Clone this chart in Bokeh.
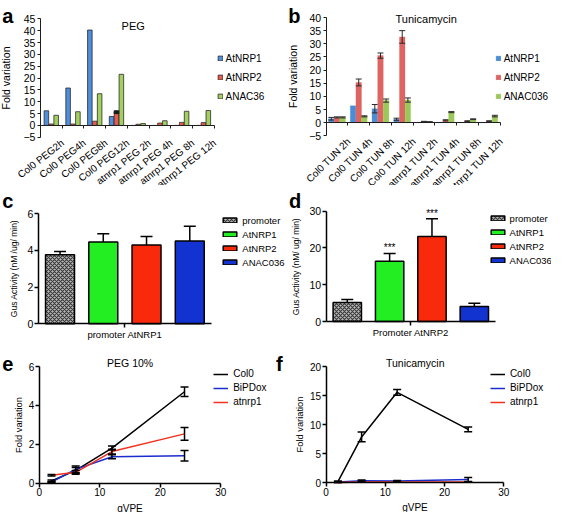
import math
from bokeh.plotting import figure
from bokeh.layouts import column, row
from bokeh.models import (ColumnDataSource, Legend, LegendItem, Label, LabelSet,
                          FixedTicker, Range1d)
from bokeh.transform import dodge
from bokeh.core.properties import value
from bokeh.embed import file_html
from bokeh.resources import INLINE

FONT = "Liberation Sans"

# ---------------- data ----------------
peg_cats = ["Col0 PEG2h", "Col0 PEG4h", "Col0 PEG8h", "Col0 PEG12h",
            "atnrp1 PEG 2h", "atnrp1 PEG 4h", "atnrp1 PEG 8h", "atnrp1 PEG 12h"]
peg_series = ["AtNRP1", "AtNRP2", "ANAC36"]
peg_atnrp1 = [6.2, 15.8, 40.3, 3.8, 0.0, 0.0, 0.0, 0.0]
peg_atnrp2 = [0.6, 0.6, 1.8, 5.6, 0.5, 1.0, 1.3, 1.2]
peg_anac36 = [4.3, 5.8, 13.4, 21.6, 0.8, 2.0, 6.0, 6.3]
peg_atnrp2_err = [0, 0, 0, 0.6, 0, 0, 0, 0]
peg_yticks = [-5, 0, 5, 10, 15, 20, 25, 30, 35, 40, 45]

tun_cats = ["Col0 TUN 2h", "Col0 TUN 4h", "Col0 TUN 8h", "Col0 TUN 12h",
            "atnrp1 TUN 2h", "atnrp1 TUN 4h", "atnrp1 TUN 8h", "atnrp1 TUN 12h"]
tun_series = ["AtNRP1", "AtNRP2", "ANAC036"]
tun_atnrp1 = [1.5, 6.4, 5.3, 1.3, 0.1, 0.0, 0.0, 0.0]
tun_atnrp1_err = [0.5, 0.0, 1.6, 0.4, 0.0, 0.0, 0.0, 0.0]
tun_atnrp2 = [2.0, 15.3, 25.5, 32.6, 0.4, 0.9, 0.6, 0.6]
tun_atnrp2_err = [0.2, 1.3, 1.0, 2.4, 0.1, 0.2, 0.1, 0.1]
tun_anac036 = [2.0, 2.4, 8.4, 8.6, 0.3, 4.0, 1.3, 2.5]
tun_anac036_err = [0.2, 0.2, 0.6, 0.8, 0.05, 0.2, 0.15, 0.3]
tun_yticks = [-5, 0, 5, 10, 15, 20, 25, 30, 35, 40]

gus_series = ["promoter", "AtNRP1", "AtNRP2", "ANAC036"]
gus1_group = "promoter AtNRP1"
gus1_vals = [3.75, 4.45, 4.28, 4.5]
gus1_err = [0.18, 0.45, 0.47, 0.8]
gus1_yticks = [0, 2, 4, 6]
gus2_group = "Promoter AtNRP2"
gus2_vals = [5.2, 16.4, 23.1, 4.1]
gus2_err = [0.8, 2.1, 4.8, 0.85]
gus2_marks = ["", "***", "***", ""]
gus2_yticks = [0, 10, 20, 30]

gvpe = [2, 6, 12, 24]
line_series = ["Col0", "BiPDox", "atnrp1"]
peg10_col0 = [0.1, 0.65, 1.8, 4.7]
peg10_col0_err = [0.05, 0.15, 0.1, 0.25]
peg10_bipdox = [0.05, 0.7, 1.35, 1.4]
peg10_bipdox_err = [0.03, 0.17, 0.1, 0.27]
peg10_atnrp1 = [0.4, 0.55, 1.62, 2.53]
peg10_atnrp1_err = [0.04, 0.1, 0.12, 0.33]
tunl_col0 = [0.2, 7.9, 15.6, 9.2]
tunl_col0_err = [0.1, 0.85, 0.5, 0.4]
tunl_bipdox = [0.1, 0.35, 0.3, 0.55]
tunl_bipdox_err = [0.05, 0.1, 0.1, 0.35]
tunl_atnrp1 = [0.05, 0.1, 0.1, 0.1]
tunl_atnrp1_err = [0.02, 0.03, 0.03, 0.03]
gvpe_xticks = [0, 10, 20, 30]
peg10_yticks = [0, 2, 4, 6]
tunl_yticks = [0, 5, 10, 15, 20]


# ---------------- helpers ----------------
def ext_range(d0, d1, p0, p1, size):
    # map data d0..d1 onto pixels p0..p1 of a frame that is `size` pixels long
    k = (d1 - d0) / (p1 - p0)
    return Range1d(start=d0 - p0 * k, end=d1 + (size - p1) * k)


def base(g, x0, x1, y0, y1):
    """g: (W, H, L, R, T, B) in pixels from the figure's top-left; the frame fills the figure."""
    W, H, L, R, T, B = g
    p = figure(width=W, height=H, output_backend="svg", toolbar_location=None,
               x_range=ext_range(x0, x1, L, R, W),
               y_range=ext_range(y0, y1, H - B, H - T, H),
               min_border=0, min_border_left=0, min_border_right=0,
               min_border_top=0, min_border_bottom=0)
    p.title.visible = False
    p.grid.visible = False
    p.outline_line_color = None
    p.border_fill_color = "white"
    p.background_fill_color = "white"
    return p


def style_axis(ax, fs, lw, tick_out, standoff, color="black"):
    ax.axis_line_color = color
    ax.axis_line_width = lw
    ax.major_tick_line_color = color
    ax.major_tick_line_width = lw
    ax.major_tick_out = tick_out
    ax.major_tick_in = 0
    ax.minor_tick_line_color = None
    ax.major_label_text_font = FONT
    ax.major_label_text_font_size = fs
    ax.major_label_text_color = "black"
    ax.major_label_standoff = standoff
    ax.axis_label_text_font = FONT
    ax.axis_label_text_font_style = "normal"
    ax.axis_label_text_color = "black"


def add_legend(p, H, items, gw, gh, lh, sp, so, fs, x, first_center):
    n = len(items)
    item_h = max(gh, lh)
    bottom = first_center - item_h / 2 + n * item_h + (n - 1) * sp
    p.add_layout(Legend(items=items, location=(x, H - bottom), orientation="vertical",
                        glyph_width=gw, glyph_height=gh, label_height=lh, spacing=sp,
                        label_standoff=so, padding=0, margin=0,
                        border_line_color=None, background_fill_alpha=0,
                        label_text_font=FONT, label_text_font_size=fs,
                        label_text_color="black"))


def top_text(p, H, text, x, y_top, size, bold=False, align="left"):
    # x from the left, y_top (text baseline) from the top of the figure, in pixels
    p.add_layout(Label(x=x, y=H - y_top, x_units="screen", y_units="screen", text=text,
                       text_font=FONT, text_font_size=size,
                       text_font_style="bold" if bold else "normal",
                       text_align=align, text_baseline="alphabetic",
                       text_color="black"))


def add_err(p, xs, vals, errs, color, lw, cap, offset=0.0, upper_only=False):
    keep = [i for i, e in enumerate(errs) if e > 0]
    s = ColumnDataSource(dict(
        x=[xs[i] for i in keep],
        lo=[vals[i] if upper_only else vals[i] - errs[i] for i in keep],
        up=[vals[i] + errs[i] for i in keep]))
    xx = dodge("x", offset)
    p.segment(x0=xx, y0="lo", x1=xx, y1="up", source=s, line_color=color, line_width=lw)
    p.scatter(x=xx, y="up", marker="dash", size=cap, source=s, line_color=color, line_width=lw)
    if not upper_only:
        p.scatter(x=xx, y="lo", marker="dash", size=cap, source=s, line_color=color, line_width=lw)


def excel_panel(g, cats, series, vals, errs, colors, outline, yticks, bar_w, step,
                ylab_standoff, label_angle, title, title_xy, letter, letter_xy, leg_xy):
    H = g[1]
    n = len(cats)
    p = base(g, 0, n, yticks[0], yticks[-1])
    centers = [i + 0.5 for i in range(n)]
    src = ColumnDataSource(dict(xc=centers, cat=cats,
                                **{f"s{i}": v for i, v in enumerate(vals)}))
    rends = []
    for i in range(len(series)):
        off = (i - (len(series) - 1) / 2) * step
        r = p.vbar(x=dodge("xc", off), top=f"s{i}", bottom=0, width=bar_w,
                   source=src, fill_color=colors[i],
                   line_color=outline if outline else colors[i],
                   line_width=0.8 if outline else 0.3)
        rends.append(r)
        if errs[i] is not None:
            add_err(p, centers, vals[i], errs[i], "#2a2a2a", 1, 6, offset=off)
    # value axis at the left of the categories
    p.yaxis.fixed_location = 0
    p.yaxis.bounds = (yticks[0], yticks[-1])
    p.yaxis.ticker = FixedTicker(ticks=yticks)
    style_axis(p.yaxis[0], "10.5px", 1, 3, 2, color="#1e1e1e")
    p.yaxis.axis_label = "Fold variation"
    p.yaxis.axis_label_text_font_size = "10.5px"
    p.yaxis.axis_label_standoff = ylab_standoff
    # category axis line at value 0, ticks between categories
    p.xaxis.fixed_location = 0
    p.xaxis.bounds = (0, n)
    p.xaxis.ticker = FixedTicker(ticks=list(range(n + 1)))
    style_axis(p.xaxis[0], "0px", 1, 3, 0, color="#1e1e1e")
    p.xaxis.major_label_text_alpha = 0
    # rotated category labels under the low end of the value axis
    p.add_layout(LabelSet(x="xc", y=yticks[0], text="cat", source=src,
                          angle=math.radians(label_angle), text_align="right",
                          text_baseline="top", x_offset=8, y_offset=0,
                          text_font=value(FONT), text_font_size=value("10px"),
                          text_color="black"))
    add_legend(p, H, [LegendItem(label=series[i], renderers=[rends[i]]) for i in range(len(series))],
               6, 6, 16, 3, 3, "10px", *leg_xy)
    top_text(p, H, title, *title_xy, "11px", align="center")
    top_text(p, H, letter, *letter_xy, "20px", bold=True)
    return p


def gus_panel(g, group, vals, errs, yticks, marks, ylab, letter, letter_xy,
              ylab_standoff, leg_xy):
    H = g[1]
    n = len(gus_series)
    p = base(g, 0, n, yticks[0], yticks[-1])
    colors = ["#b9b9b9", "#22ee22", "#f92a0c", "#1233d0"]
    centers = [i + 0.5 for i in range(n)]
    rends = []
    for i in range(n):
        s = ColumnDataSource(dict(x=[centers[i]], top=[vals[i]]))
        extra = {}
        if i == 0:
            extra = dict(hatch_pattern="diagonal_cross", hatch_color="#3a3a3a",
                         hatch_scale=4, hatch_weight=1.2)
        r = p.vbar(x="x", top="top", bottom=0, width=0.67, source=s,
                   fill_color=colors[i], line_color="black", line_width=1.5, **extra)
        rends.append(r)
    add_err(p, centers, vals, errs, "black", 1.5, 12, upper_only=True)
    if marks:
        pad = (yticks[-1] - yticks[0]) * 0.05
        keep = [i for i, m in enumerate(marks) if m]
        ms = ColumnDataSource(dict(x=[centers[i] for i in keep],
                                   y=[vals[i] + errs[i] + pad for i in keep],
                                   t=[marks[i] for i in keep]))
        p.text(x="x", y="y", text="t", source=ms, text_font=value(FONT),
               text_font_size=value("10px"), text_align="center",
               text_baseline="alphabetic", text_color="black")
    p.yaxis.fixed_location = 0
    p.yaxis.bounds = (yticks[0], yticks[-1])
    p.yaxis.ticker = FixedTicker(ticks=yticks)
    style_axis(p.yaxis[0], "10.5px", 1.5, 4, 1)
    p.yaxis.axis_label = ylab
    p.yaxis.axis_label_text_font_size = "8.5px"
    p.yaxis.axis_label_standoff = ylab_standoff
    p.xaxis.fixed_location = yticks[0]
    p.xaxis.bounds = (0, n)
    p.xaxis.ticker = FixedTicker(ticks=[n / 2])
    p.xaxis.major_label_overrides = {n / 2: group}
    style_axis(p.xaxis[0], "9.5px", 1.5, 4, 1)
    add_legend(p, H, [LegendItem(label=gus_series[i], renderers=[rends[i]]) for i in range(n)],
               17, 6, 12, 2, 4, "9.5px", *leg_xy)
    top_text(p, H, letter, *letter_xy, "20px", bold=True)
    return p


def line_panel(g, series_vals, series_errs, yticks, title, title_xy,
               letter, letter_xy, ylab_standoff, leg_xy):
    H = g[1]
    p = base(g, gvpe_xticks[0], gvpe_xticks[-1], yticks[0], yticks[-1])
    colors = ["#000000", "#1a2ccc", "#f2321e"]
    rends = []
    for i in range(len(line_series)):
        rends.append(p.line(gvpe, series_vals[i], line_color=colors[i], line_width=1.5))
    for i in range(len(line_series)):
        add_err(p, gvpe, series_vals[i], series_errs[i], "black", 1.5, 8)
    p.yaxis.fixed_location = gvpe_xticks[0]
    p.yaxis.bounds = (yticks[0], yticks[-1])
    p.yaxis.ticker = FixedTicker(ticks=yticks)
    p.xaxis.fixed_location = yticks[0]
    p.xaxis.bounds = (gvpe_xticks[0], gvpe_xticks[-1])
    p.xaxis.ticker = FixedTicker(ticks=gvpe_xticks)
    style_axis(p.xaxis[0], "10px", 1.5, 4, 1)
    style_axis(p.yaxis[0], "10px", 1.5, 4, 1)
    p.xaxis.axis_label = "gVPE"
    p.xaxis.axis_label_text_font_size = "10px"
    p.xaxis.axis_label_standoff = 3
    p.yaxis.axis_label = "Fold variation"
    p.yaxis.axis_label_text_font_size = "9.3px"
    p.yaxis.axis_label_standoff = ylab_standoff
    add_legend(p, H, [LegendItem(label=line_series[i], renderers=[rends[i]]) for i in range(3)],
               15, 12, 12, 2, 5, "10px", *leg_xy)
    top_text(p, H, title, *title_xy, "10.5px", align="center")
    top_text(p, H, letter, *letter_xy, "20px", bold=True)
    return p


# ---------------- panels ----------------
# geometry: (width, height, data-left, data-right, data-top, data-bottom), pixels from top-left
GA = (276, 185, 39.9, 213.8, 18.4, 136.8)
GB = (275, 185, 49.6, 223.6, 17.0, 135.3)
GC = (286, 163, 37.9, 210.9, 28.0, 138.3)
GD = (265, 163, 39.6, 209.0, 25.5, 136.1)
GE = (274, 164, 38.9, 220.3, 18.0, 134.5)
GF = (277, 164, 51.6, 229.2, 18.3, 134.2)

pa = excel_panel(GA, peg_cats, peg_series, [peg_atnrp1, peg_atnrp2, peg_anac36],
                 [None, None, None], ["#4f8ed9", "#e8594f", "#a2cf5e"], "#2c2c2c",
                 peg_yticks, 0.21, 0.225, 9, 38, "PEG", (132.7, 25.9),
                 "a", (1.7, 15), (216.5, 58.4))
keep = [i for i, e in enumerate(peg_atnrp2_err) if e > 0]
src_ae = ColumnDataSource(dict(x=[i + 0.5 for i in keep],
                               lo=[peg_atnrp2[i] - peg_atnrp2_err[i] for i in keep],
                               up=[peg_atnrp2[i] + peg_atnrp2_err[i] for i in keep]))
pa.vbar(x="x", bottom="lo", top="up", width=0.21, source=src_ae,
        fill_color="#1a1a1a", line_color="#1a1a1a")

pb = excel_panel(GB, tun_cats, tun_series, [tun_atnrp1, tun_atnrp2, tun_anac036],
                 [tun_atnrp1_err, tun_atnrp2_err, tun_anac036_err],
                 ["#4a8cd6", "#de6461", "#9cc85a"], None, tun_yticks,
                 0.255, 0.26, 8, 45, "Tunicamycin", (149.7, 18.2),
                 "b", (11.7, 15.5), (218.7, 58.2))

pc = gus_panel(GC, gus1_group, gus1_vals, gus1_err, gus1_yticks, None,
               "Gus Activity (nM /ug/ min)", "c", (1.7, 15.5), 6, (221.3, 35.0))
pd = gus_panel(GD, gus2_group, gus2_vals, gus2_err, gus2_yticks, gus2_marks,
               "Gus Activity (nM/ ug/ min)", "d", (2.4, 15.5), 6, (202.6, 33.4))

pe = line_panel(GE, [peg10_col0, peg10_bipdox, peg10_atnrp1],
                [peg10_col0_err, peg10_bipdox_err, peg10_atnrp1_err],
                peg10_yticks, "PEG 10%", (129.6, 14.5), "e", (1.7, 15.5), 2, (213.2, 25.8))
pf = line_panel(GF, [tunl_col0, tunl_bipdox, tunl_atnrp1],
                [tunl_col0_err, tunl_bipdox_err, tunl_atnrp1_err],
                tunl_yticks, "Tunicamycin", (140.7, 14.5), "f", (1.4, 15.5), 2, (215.9, 25.8))

layout = column(row(pa, pb), row(pc, pd), row(pe, pf))

open("out.html", "w").write(file_html(layout, INLINE))
